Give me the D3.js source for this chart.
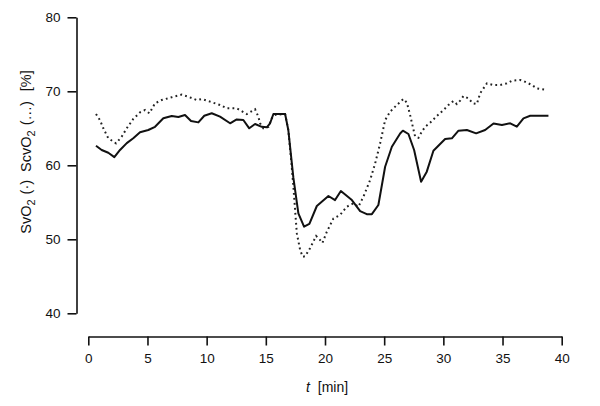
<!DOCTYPE html>
<html>
<head>
<meta charset="utf-8">
<script src="https://cdn.jsdelivr.net/npm/d3@7"></script>
<style>
  html, body { margin: 0; padding: 0; background: #fff; }
  svg { display: block; }
  text { font-family: "Liberation Sans", Arial, Helvetica, sans-serif; fill: #111; }
</style>
</head>
<body>
<svg id="chart" width="600" height="406"></svg>
<script>
// SvO2 (solid line)
const svoTime = [0.65, 1.13, 1.69, 2.2, 2.68, 3.25, 3.8, 4.37, 5.07, 5.64, 6.34, 7.05, 7.61, 8.17, 8.68, 9.3, 9.8, 10.43, 11.13, 11.98, 12.54, 13.1, 13.6, 14.09, 14.66, 15.08, 15.36, 15.64, 16.63, 16.9, 17.33, 17.75, 18.23, 18.68, 19.31, 20.29, 20.85, 21.34, 22.27, 22.97, 23.53, 23.96, 24.51, 25.08, 25.65, 26.35, 26.58, 27.05, 27.53, 28.12, 28.6, 29.16, 30.15, 30.72, 31.28, 31.99, 32.77, 33.53, 34.24, 34.95, 35.65, 36.21, 36.77, 37.34, 38.88];
const svoValues = [62.65, 62.07, 61.7, 61.1, 62.07, 63.0, 63.65, 64.46, 64.77, 65.2, 66.35, 66.66, 66.53, 66.8, 65.99, 65.8, 66.7, 67.03, 66.57, 65.68, 66.2, 66.12, 65.0, 65.58, 65.2, 65.14, 65.68, 66.93, 66.93, 64.77, 58.3, 53.5, 51.7, 52.07, 54.5, 55.85, 55.3, 56.53, 55.3, 53.8, 53.4, 53.4, 54.64, 59.8, 62.5, 64.3, 64.68, 64.23, 62.07, 57.78, 59.14, 61.97, 63.55, 63.65, 64.68, 64.77, 64.32, 64.77, 65.65, 65.45, 65.68, 65.22, 66.35, 66.7, 66.7];

// ScvO2 (dotted line)
const scvoTime = [0.65, 0.99, 1.27, 1.69, 2.34, 2.82, 3.25, 3.8, 4.37, 4.79, 5.16, 5.64, 6.2, 7.05, 7.9, 8.45, 9.16, 9.59, 10.29, 11.13, 11.7, 12.54, 13.39, 14.09, 14.37, 14.51, 14.79, 15.22, 15.5, 15.78, 16.63, 16.9, 17.19, 17.33, 17.47, 17.62, 17.9, 18.12, 18.32, 18.74, 19.25, 19.59, 19.78, 20.15, 20.71, 21.28, 21.84, 22.4, 22.82, 23.25, 23.81, 24.24, 24.66, 25.08, 25.5, 26.07, 26.63, 26.92, 27.19, 27.42, 27.62, 27.9, 28.18, 28.46, 28.88, 29.45, 30.01, 30.43, 30.85, 31.14, 31.42, 31.7, 32.12, 32.49, 32.83, 33.11, 33.68, 34.24, 34.8, 35.37, 35.79, 36.49, 36.77, 37.48, 37.9, 38.75];
const scvoValues = [66.93, 66.1, 65.0, 63.65, 62.97, 63.86, 65.0, 66.26, 67.16, 67.47, 67.03, 68.38, 68.82, 69.19, 69.55, 69.27, 68.82, 68.96, 68.6, 68.15, 67.7, 67.7, 66.93, 67.57, 66.57, 65.68, 65.0, 65.2, 66.35, 66.8, 66.93, 64.77, 59.8, 57.1, 54.0, 50.8, 48.55, 47.65, 47.7, 48.8, 50.45, 49.9, 49.5, 51.0, 52.8, 53.3, 54.4, 54.86, 54.4, 55.76, 58.0, 60.27, 62.97, 66.1, 67.24, 68.15, 68.96, 68.46, 66.8, 65.2, 63.86, 63.73, 64.54, 65.2, 65.75, 66.66, 67.47, 68.15, 68.69, 68.28, 68.73, 69.36, 69.05, 68.38, 68.28, 69.73, 71.07, 70.85, 70.85, 71.07, 71.43, 71.53, 71.39, 70.85, 70.4, 70.18];

const xTicks = [0, 5, 10, 15, 20, 25, 30, 35, 40];
const yTicks = [40, 50, 60, 70, 80];

const svg = d3.select("#chart");
const x = d3.scaleLinear().domain([0, 40]).range([88.3, 561.7]);
const y = d3.scaleLinear().domain([40, 80]).range([313.3, 17.3]);

// X axis
const xAxis = svg.append("g")
  .attr("transform", "translate(0,336.5)")
  .call(d3.axisBottom(x).tickValues(xTicks).tickSize(9).tickSizeOuter(0).tickPadding(8).tickFormat(d3.format("d")));
// Y axis
const yAxis = svg.append("g")
  .attr("transform", "translate(76.5,0)")
  .call(d3.axisLeft(y).tickValues(yTicks).tickSize(9).tickSizeOuter(0).tickPadding(7).tickFormat(d3.format("d")));

[xAxis, yAxis].forEach(g => {
  g.select(".domain").attr("stroke", "#111").attr("stroke-width", 1.6);
  g.selectAll(".tick line").attr("stroke", "#111").attr("stroke-width", 1.6);
  g.selectAll(".tick text").attr("font-size", 13.5).attr("fill", "#111")
    .style("font-family", "'Liberation Sans', Arial, sans-serif");
});

const line = d3.line().x(d => x(d[0])).y(d => y(d[1]));

const scvoData = scvoTime.map((t, i) => [t, scvoValues[i]]);
const svoData = svoTime.map((t, i) => [t, svoValues[i]]);

svg.append("path")
  .datum(scvoData)
  .attr("fill", "none")
  .attr("stroke", "#222")
  .attr("stroke-width", 2)
  .attr("stroke-dasharray", "1.8,3.2")
  .attr("d", line);

svg.append("path")
  .datum(svoData)
  .attr("fill", "none")
  .attr("stroke", "#111")
  .attr("stroke-width", 2)
  .attr("stroke-linejoin", "round")
  .attr("d", line);

// X axis label
const xl = svg.append("text")
  .attr("x", 327).attr("y", 392)
  .attr("text-anchor", "middle")
  .attr("font-size", 14);
xl.append("tspan").attr("font-style", "italic").text("t");
xl.append("tspan").attr("dx", 8).text("[min]");

// Y axis label
const yl = svg.append("text")
  .attr("transform", "translate(31,152) rotate(-90)")
  .attr("text-anchor", "middle")
  .attr("font-size", 14.5);
yl.append("tspan").text("SvO");
yl.append("tspan").attr("font-size", 11).attr("dy", 4).text("2");
yl.append("tspan").attr("dy", -4).attr("dx", 5).text("(·)");
yl.append("tspan").attr("dx", 8).text("ScvO");
yl.append("tspan").attr("font-size", 11).attr("dy", 4).text("2");
yl.append("tspan").attr("dy", -4).attr("dx", 5).text("(…)");
yl.append("tspan").attr("dx", 10).text("[%]");
</script>
</body>
</html>
